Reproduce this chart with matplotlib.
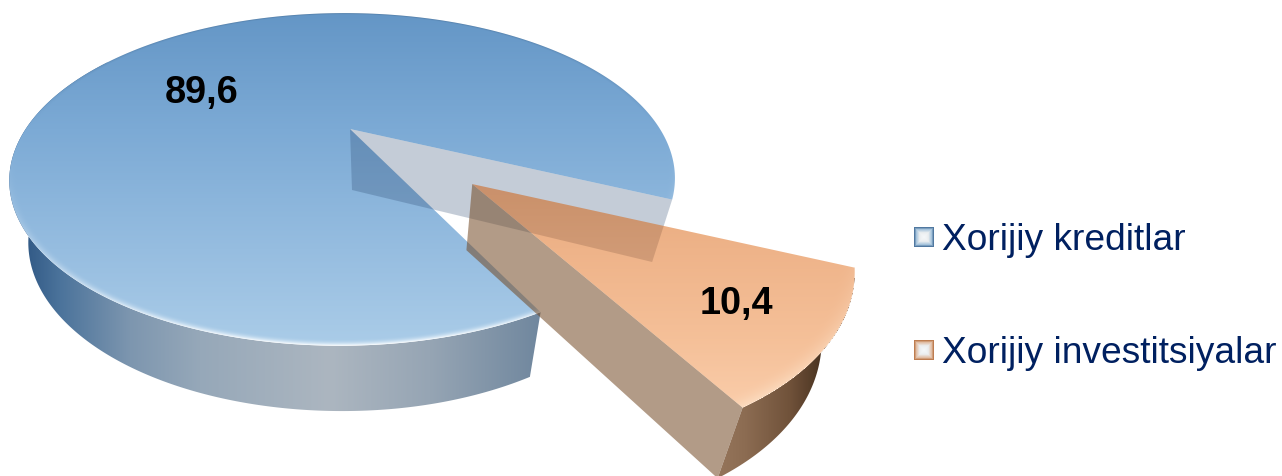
import numpy as np
import matplotlib
matplotlib.use("Agg")
import matplotlib.pyplot as plt
from matplotlib.patches import Polygon
from matplotlib.path import Path

# Data
categories = ["Xorijiy kreditlar", "Xorijiy investitsiyalar"]
shares = [89.6, 10.4]

W, H = 1282, 477
plt.rcParams["font.family"] = ["Liberation Sans", "DejaVu Sans"]

# Perspective of the pie plane
CX, CY, RX, RY = 350.0, 130.0, 317.0, 151.0
K, M = 0.303, 0.0226
START = -24.7
SPREAD = 1.04              # picture's notch looks a bit wider than flat plane
OFFSET = (0.35, -0.331)    # explode of the small slice
R_SMALL = 0.975
STRETCH = 1.048            # small slice is a bit wider on screen
VX = 390.0


def project(x, y):
    w = 1 + K * y + M * x
    return CX + RX * x / w, CY - RY * y / w


def unproject(px, py):
    u = (px - CX) / RX
    v = -(py - CY) / RY
    w = 1 / (1 - K * v - M * u)
    return u * w, v * w


def lower(pts, extra=0):
    # same points on the bottom face of the disc
    pts = np.asarray(pts)
    dx = pts[:, 0] - VX
    x = pts[:, 0] - np.where(dx > 0, 0.071, 0.05) * dx
    y = pts[:, 1] + 61 + extra + 0.02 * (pts[:, 1] - 130)
    return np.column_stack([x, y])


def rim(a1, a2, r=1.0, off=(0, 0), n=200):
    t = np.radians(np.linspace(a1, a2, n))
    x, y = project(off[0] + r * np.cos(t), off[1] + r * np.sin(t))
    return np.column_stack([x, y])


def ramp(values, stops, colors):
    colors = np.array(colors, dtype=float)
    return np.stack([np.interp(values, stops, colors[:, i]) for i in range(3)], axis=-1)


def paint(ax, rgb, poly, alpha=1.0, z=1, hole=None):
    a = np.full(rgb.shape[:2], alpha)
    if hole is not None:
        a[hole] = 0
    rgba = np.dstack([np.clip(rgb, 0, 255) / 255.0, a])
    im = ax.imshow(rgba, extent=(0, W, H, 0), aspect="auto", interpolation="bilinear", zorder=z)
    im.set_clip_path(Polygon(poly, closed=True, transform=ax.transData))


def bevel(rgb, x, y, off, r_max, width, light, dark):
    # lighter lip on the front of the rim, darker on the back
    ux, uy = unproject(x, y)
    ux, uy = ux - off[0], uy - off[1]
    r = np.hypot(ux, uy) / r_max
    s = -uy / np.maximum(np.hypot(ux, uy), 1e-6)
    t = np.clip(1 - (1 - r) / width, 0, 1) ** 2
    f = np.where(s > 0, np.clip(s, 0, 1) ** 2.5, np.clip(-s * 0.75, 0, 1))[..., None] * t[..., None]
    target = np.where(s[..., None] > 0, np.array(light, float), np.array(dark, float))
    return rgb * (1 - f) + target * f


def legend_box(ax, x0, y0, edge, mid):
    size = 20
    g = np.linspace(-1, 1, size)
    u, v = np.meshgrid(g, g)
    d = np.maximum(np.abs(u), np.abs(v))
    rgb = ramp(d, [0, 0.45, 0.8, 1], [(245, 248, 250), (235, 238, 240), mid, edge])
    ax.imshow(rgb / 255.0, extent=(x0, x0 + 20, y0 + 20, y0), aspect="auto",
              interpolation="bilinear", zorder=8)


fig = plt.figure(figsize=(W / 100, H / 100), dpi=100)
ax = fig.add_axes([0, 0, 1, 1])

px, py = np.meshgrid(np.arange(W) + 0.5, np.arange(H) + 0.5)
span = 360 * shares[1] / sum(shares) * SPREAD
a_back, a_front = START, START - span

# big slice
arc_big = rim(a_back, a_front + 360, n=400)
apex = np.array([project(0, 0)])
side_big = rim(150, 360 + a_front, n=300)
wall_big = np.vstack([side_big, lower(side_big)[::-1]])
rgb = ramp(px, [20, 60, 130, 200, 330, 430, 540],
           [(45, 85, 130), (75, 115, 155), (125, 150, 175), (150, 168, 185),
            (172, 182, 192), (150, 165, 180), (112, 135, 158)])
paint(ax, rgb, wall_big, z=1)

rgb = ramp(py, [14, 130, 250, 345],
           [(100, 150, 198), (124, 170, 213), (150, 189, 224), (170, 204, 232)])
rgb = bevel(rgb, px, py, (0, 0), 1.0, 0.022, (250, 253, 255), (70, 110, 150))
paint(ax, rgb, np.vstack([apex, arc_big]), z=2)

# back cut face of the notch, seen through
back_top = np.vstack([apex, rim(a_back, a_back, n=1)])
back_face = np.vstack([back_top, lower(back_top)[::-1]])
ax.add_patch(Polygon(back_face, closed=True, fc=(40 / 255, 70 / 255, 110 / 255), alpha=0.27,
                     lw=0, zorder=3))

# small slice, pulled out
tip = np.array([project(*OFFSET)])
arc_small = rim(a_front, a_back, R_SMALL, OFFSET, n=100)
arc_small[:, 0] = tip[0, 0] + STRETCH * (arc_small[:, 0] - tip[0, 0])
top_small = np.vstack([tip, arc_small])

cut_top = np.vstack([tip, arc_small[:1]])
cut_face = np.vstack([cut_top, lower(cut_top, 4)[::-1]])
ax.add_patch(Polygon(cut_face, closed=True, fc=(115 / 255, 73 / 255, 36 / 255), alpha=0.55,
                     lw=0, zorder=4))

# outer wall, not under the translucent top
inside = Path(top_small).contains_points(np.column_stack([px.ravel(), py.ravel()])).reshape(px.shape)
rim_wall = np.vstack([arc_small, lower(arc_small, 4)[::-1]])
rgb = ramp(px, [715, 745, 790, 825, 850],
           [(150, 118, 92), (140, 108, 82), (112, 82, 58), (70, 48, 30), (90, 62, 40)])
paint(ax, rgb, rim_wall, z=5, hole=inside)

rgb = ramp(py, [185, 270, 340, 410],
           [(232, 170, 125), (240, 182, 140), (245, 192, 152), (250, 205, 170)])
rgb = bevel(rgb, tip[0, 0] + (px - tip[0, 0]) / STRETCH, py, OFFSET, R_SMALL, 0.04,
            (252, 225, 200), (225, 165, 120))
alpha = 0.5
paint(ax, (rgb - (1 - alpha) * 255) / alpha, top_small, alpha=alpha, z=6)

# value labels
label_pos = [(202, 93), (736, 304)]
for value, (lx, ly) in zip(shares, label_pos):
    ax.text(lx, ly, str(value).replace(".", ","), fontsize=27.3, fontweight="bold",
            color="black", ha="center", va="center", zorder=9)

# legend
legend_y = [238, 351]
edges = [(80, 120, 160), (190, 125, 80)]
mids = [(165, 195, 220), (225, 190, 165)]
for name, ly, edge, mid in zip(categories, legend_y, edges, mids):
    legend_box(ax, 914, ly - 10, edge, mid)
    ax.text(942, ly + 3, name, fontsize=26.75, color="#002060", ha="left", va="center", zorder=9)

ax.set_xlim(0, W)
ax.set_ylim(H, 0)
ax.axis("off")
fig.savefig("out.png", dpi=100)
